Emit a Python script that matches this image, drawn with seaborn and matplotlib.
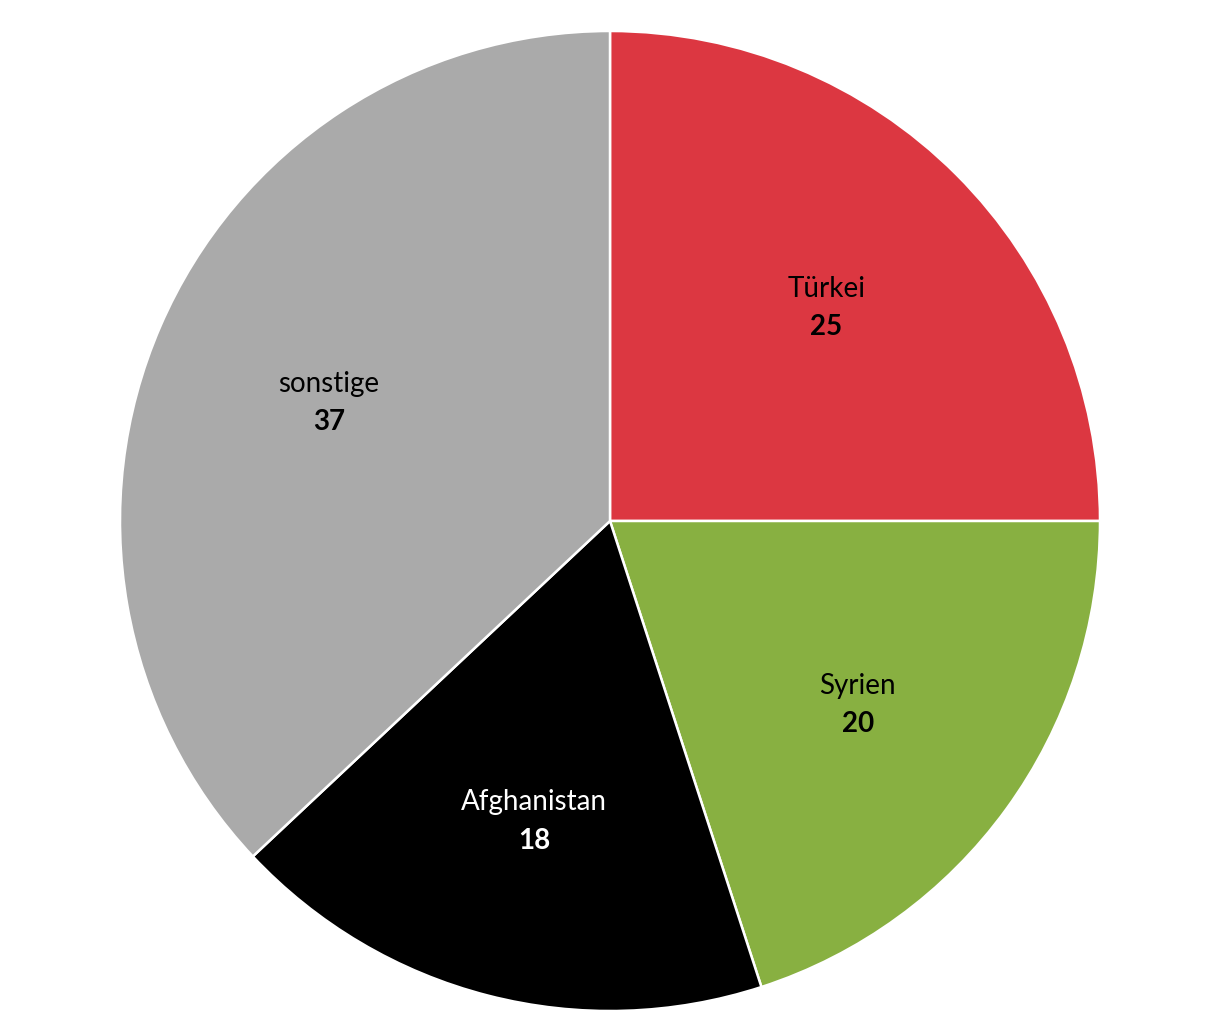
import numpy as np
import matplotlib.pyplot as plt
import seaborn as sns

# Data
countries = ["Türkei", "Syrien", "Afghanistan", "sonstige"]
values = [25, 20, 18, 37]
colors = ["#dc3741", "#88b041", "#000000", "#aaaaaa"]
text_colors = ["black", "black", "white", "black"]

sns.set_theme(style="white")
plt.rcParams['font.family'] = ['Lato', 'DejaVu Sans']

fig = plt.figure(figsize=(12.2, 10.24), dpi=100)
ax = fig.add_axes([120 / 1220, 13 / 1024, 980 / 1220, 980 / 1024])

wedges, _ = ax.pie(values, colors=colors, startangle=90, counterclock=False,
                   wedgeprops=dict(edgecolor="white", linewidth=1.8))

# labels in the middle of each wedge
for w, name, val, tc in zip(wedges, countries, values, text_colors):
    ang = np.deg2rad((w.theta1 + w.theta2) / 2)
    x, y = 0.625 * np.cos(ang), 0.625 * np.sin(ang) - 0.008
    ax.text(x, y + 0.039, name, ha="center", va="center", fontsize=20, color=tc)
    ax.text(x, y - 0.039, str(val), ha="center", va="center", fontsize=20,
            fontweight="bold", color=tc)

ax.set_xlim(-1, 1)
ax.set_ylim(-1, 1)
ax.set_aspect("equal")
ax.axis("off")

fig.savefig("out.png", dpi=100)
